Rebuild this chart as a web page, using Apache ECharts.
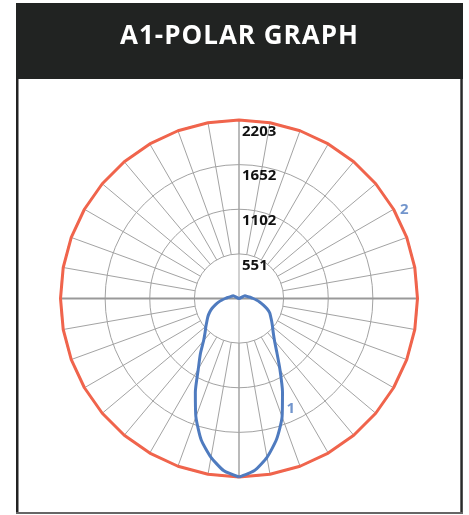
<!DOCTYPE html>
<html><head><meta charset="utf-8">
<script src="https://cdn.jsdelivr.net/npm/echarts@6.0.0/dist/echarts.min.js"></script>
<style>
html,body{margin:0;padding:0;background:#fff;}
#c{position:absolute;left:0;top:0;width:469px;height:515px;}
#t{position:absolute;left:16px;top:3px;width:447px;height:62px;line-height:62px;text-align:center;color:#fff;
  font-family:"Open Sans",sans-serif;font-weight:700;font-size:26px;letter-spacing:1px;z-index:5;}
</style>
</head><body><div id="c"></div><div id="t"></div><script>
// ---- data ----
const titleText = 'A1-POLAR GRAPH';
const radiusTicks = [551, 1102, 1652, 2203];
const seriesNames = ['1', '2'];
// series 1 (blue): angle measured from nadir (bottom), clockwise, every 5 degrees
const blueAngles = [0,5,10,15,20,25,30,35,40,45,50,55,60,65,70,75,80,85,90,95,100,105,110,115,120,125,130,135,140,145,150,155,160,165,170,175,180,
  185,190,195,200,205,210,215,220,225,230,235,240,245,250,255,260,265,270,275,280,285,290,295,300,305,310,315,320,325,330,335,340,345,350,355,360];
const blueValues = [2203,2135,1990,1805,1555,1275,1005,830,680,592,533,483,443,400,353,303,257,210,170,140,115,100,88,78,0,0,0,0,0,0,0,0,0,0,0,0,0,
  0,0,0,0,0,0,0,0,0,0,0,0,80,90,102,118,145,175,215,262,312,368,418,452,493,540,598,682,815,1010,1270,1555,1795,1990,2135,2203];
// series 2 (red): every 10 degrees
const redAngles = [0,10,20,30,40,50,60,70,80,90,100,110,120,130,140,150,160,170,180,190,200,210,220,230,240,250,260,270,280,290,300,310,320,330,340,350,360];
const redValues = [2203,2203,2203,2203,2203,2203,2203,2203,2203,2203,2203,2203,2203,2203,2203,2203,2203,2203,2203,2203,2203,2203,2203,2203,2203,2203,2203,2203,2203,2203,2203,2203,2203,2203,2203,2203,2203];
const blueLabelAngle = 340;
const redLabelAngle = 240;

document.getElementById('t').textContent = titleText;

// ---- layout / style ----
const C = [239, 298.5];
const R = 178.5;
const PAD = 1.1; // data polar is larger so thick lines at the rim are not clipped
const BLUE = '#4F7BBF', RED = '#F0644C', GRID = '#a3a3a3';
const rMax = radiusTicks[radiusTicks.length - 1];
const rInterval = rMax / radiusTicks.length;

function hiddenAngle(idx, start, extra) {
  return Object.assign({polarIndex: idx, type: 'value', min: 0, max: 360, startAngle: start, clockwise: true,
    axisLine: {show: false}, axisTick: {show: false}, axisLabel: {show: false}, splitLine: {show: false}, splitArea: {show: false}}, extra || {});
}
function hiddenRadius(idx, extra) {
  return Object.assign({polarIndex: idx, type: 'value', min: 0, max: rMax,
    axisLine: {show: false}, axisTick: {show: false}, axisLabel: {show: false}, splitLine: {show: false}, splitArea: {show: false}}, extra || {});
}

const labelFont = {fontFamily: '"Open Sans", sans-serif', fontWeight: 'bold', fontSize: 15};

function lineData(angles, values) { return angles.map((a, i) => [values[i], a]); }
function labelPoint(angles, values, ang) { const i = angles.indexOf(ang); return [[values[i], ang]]; }

const chart = echarts.init(document.getElementById('c'), null, {renderer: 'canvas'});
chart.setOption({
  animation: false,
  backgroundColor: '#fff',
  graphic: [
    {type: 'rect', shape: {x: 16, y: 3, width: 447, height: 76}, style: {fill: '#212322'}, z: 0},
    {type: 'rect', shape: {x: 16, y: 79, width: 2.5, height: 435}, style: {fill: '#222'}, z: 0},
    {type: 'rect', shape: {x: 460.3, y: 79, width: 2.5, height: 435}, style: {fill: '#2a2a2a'}, z: 0},
    {type: 'rect', shape: {x: 16, y: 512, width: 447, height: 2}, style: {fill: '#666'}, z: 0}
  ],
  polar: [
    {center: C, radius: [0, R * PAD]},
    {center: C, radius: [R * radiusTicks[0] / rMax, R]},
    {center: C, radius: [0, R]},
    {center: C, radius: [0, R]},
    {center: C, radius: [0, R]}
  ],
  angleAxis: [
    hiddenAngle(0, 270),
    hiddenAngle(1, 270, {interval: 10, splitLine: {show: true, lineStyle: {color: GRID, width: 1}}}),
    hiddenAngle(2, 270, {interval: 180, splitLine: {show: true, lineStyle: {color: GRID, width: 1}}}),
    hiddenAngle(3, 0, {interval: 180, splitLine: {show: true, lineStyle: {color: '#999', width: 2}}}),
    hiddenAngle(4, 90)
  ],
  radiusAxis: [
    hiddenRadius(0, {max: rMax * PAD}),
    hiddenRadius(1),
    hiddenRadius(2),
    hiddenRadius(3),
    hiddenRadius(4, {interval: rInterval, splitLine: {show: true, lineStyle: {color: GRID, width: 1}},
      axisLabel: Object.assign({show: true, margin: -3, align: 'left', verticalAlign: 'top',
      padding: [4, 0, 0, 0], color: '#111', formatter: v => v === 0 ? '' : String(Math.round(v))}, labelFont)})
  ],
  series: [
    {type: 'line', name: seriesNames[0], coordinateSystem: 'polar', polarIndex: 0, data: lineData(blueAngles, blueValues),
      clip: false, showSymbol: false, smooth: 0.2, lineStyle: {color: BLUE, width: 3}, itemStyle: {color: BLUE}, silent: true, z: 4},
    {type: 'line', name: seriesNames[1], coordinateSystem: 'polar', polarIndex: 0, data: lineData(redAngles, redValues),
      clip: false, showSymbol: false, lineStyle: {color: RED, width: 3}, itemStyle: {color: RED}, silent: true, z: 3},
    {type: 'scatter', coordinateSystem: 'polar', polarIndex: 0, data: labelPoint(blueAngles, blueValues, blueLabelAngle),
      clip: false, symbolSize: 1, itemStyle: {color: 'rgba(0,0,0,0)'}, silent: true, z: 6,
      label: Object.assign({show: true, formatter: seriesNames[0], position: 'right', distance: 4, offset: [0, -8], color: BLUE}, labelFont)},
    {type: 'scatter', coordinateSystem: 'polar', polarIndex: 0, data: labelPoint(redAngles, redValues, redLabelAngle),
      clip: false, symbolSize: 1, itemStyle: {color: 'rgba(0,0,0,0)'}, silent: true, z: 6,
      label: Object.assign({show: true, formatter: seriesNames[1], position: 'right', distance: 6, color: BLUE}, labelFont)}
  ]
});
</script></body></html>
